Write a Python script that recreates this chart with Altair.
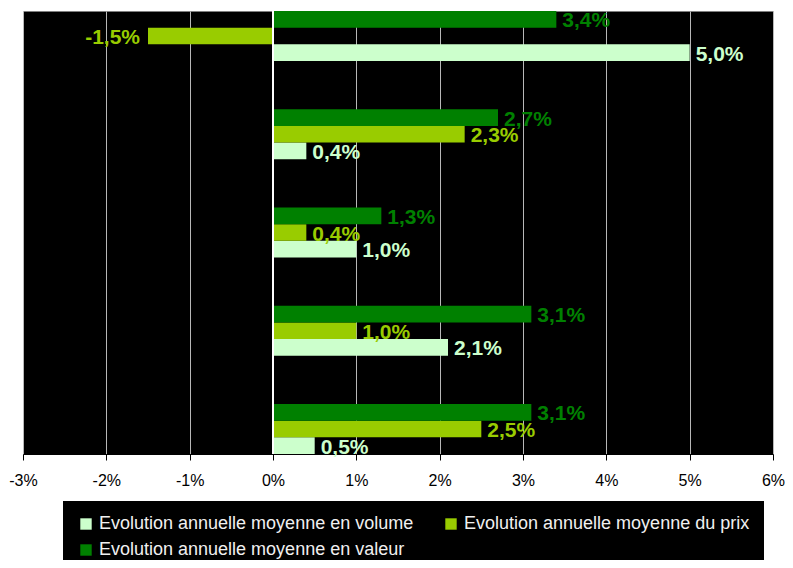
import altair as alt
import pandas as pd

categories = ["A", "B", "C", "D", "E"]
series = [
    "Evolution annuelle moyenne en volume",
    "Evolution annuelle moyenne du prix",
    "Evolution annuelle moyenne en valeur",
]
volume = [5.0, 0.4, 1.0, 2.1, 0.5]
prix = [-1.5, 2.3, 0.4, 1.0, 2.5]
valeur = [3.4, 2.7, 1.3, 3.1, 3.1]
colors = ["#ccffcc", "#99cc00", "#008000"]
ticks = [-3, -2, -1, 0, 1, 2, 3, 4, 5, 6]

rows = []
for s, vals in zip(series, [volume, prix, valeur]):
    for c, v in zip(categories, vals):
        rows.append({"cat": c, "serie": s, "val": v,
                     "label": f"{v:.1f}".replace(".", ",") + "%"})
df = pd.DataFrame(rows)

offset_order = [series[2], series[1], series[0]]

y_enc = alt.Y("cat:N", sort=categories,
              scale=alt.Scale(paddingInner=0.4924, paddingOuter=0), axis=None)
yoff_enc = alt.YOffset("serie:N", sort=offset_order,
                       scale=alt.Scale(paddingInner=0, paddingOuter=0))
x_scale = alt.Scale(domain=[-3, 6], nice=False, zero=False)

base = alt.Chart(df)

bars = base.mark_bar(cornerRadius=0).encode(
    x=alt.X("val:Q", scale=x_scale,
            axis=alt.Axis(values=ticks, labelExpr="datum.value + '%'", title=None,
                          grid=True, gridColor="#b8b8b8", gridWidth=1,
                          domainColor="black", tickColor="black", tickSize=6,
                          labelColor="black", labelFontSize=16, labelFlush=False,
                          labelBound=False, labelOverlap=False,
                          labelFont="Liberation Sans", labelPadding=12)),
    y=y_enc,
    yOffset=yoff_enc,
    color=alt.Color("serie:N", sort=series,
                    scale=alt.Scale(domain=series, range=colors),
                    legend=alt.Legend(orient="none", legendX=40, legendY=490,
                                      direction="horizontal", columns=2,
                                      title=None, fillColor="black", padding=14,
                                      symbolType="square", symbolSize=130,
                                      symbolStrokeWidth=0, labelColor="#f0f0f0",
                                      labelFontSize=18, labelFont="Liberation Sans",
                                      labelOffset=4, columnPadding=28,
                                      rowPadding=8, labelLimit=500)),
)

zero = alt.Chart(df).mark_rule(color="white", strokeWidth=1).encode(x=alt.datum(0))

text_common = dict(fontSize=21, fontWeight="bold", font="Liberation Sans",
                   baseline="middle", dy=2)

pos_labels = base.transform_filter("datum.val >= 0").mark_text(
    align="left", dx=6, **text_common).encode(
    x=alt.X("val:Q", scale=x_scale),
    y=y_enc, yOffset=yoff_enc, text="label:N",
    color=alt.Color("serie:N", scale=alt.Scale(domain=series, range=colors), legend=None),
)
neg_labels = base.transform_filter("datum.val < 0").mark_text(
    align="right", dx=-8, **text_common).encode(
    x=alt.X("val:Q", scale=x_scale),
    y=y_enc, yOffset=yoff_enc, text="label:N",
    color=alt.Color("serie:N", scale=alt.Scale(domain=series, range=colors), legend=None),
)

chart = alt.layer(bars, zero, pos_labels, neg_labels).properties(
    width=750, height=443,
    autosize=alt.AutoSizeParams(type="none"),
    padding={"left": 15, "top": 3, "right": 12, "bottom": 106},
    background="white",
).configure_view(fill="black", stroke="transparent")

chart.save("out.html", embed_options={"renderer": "svg", "actions": False})
